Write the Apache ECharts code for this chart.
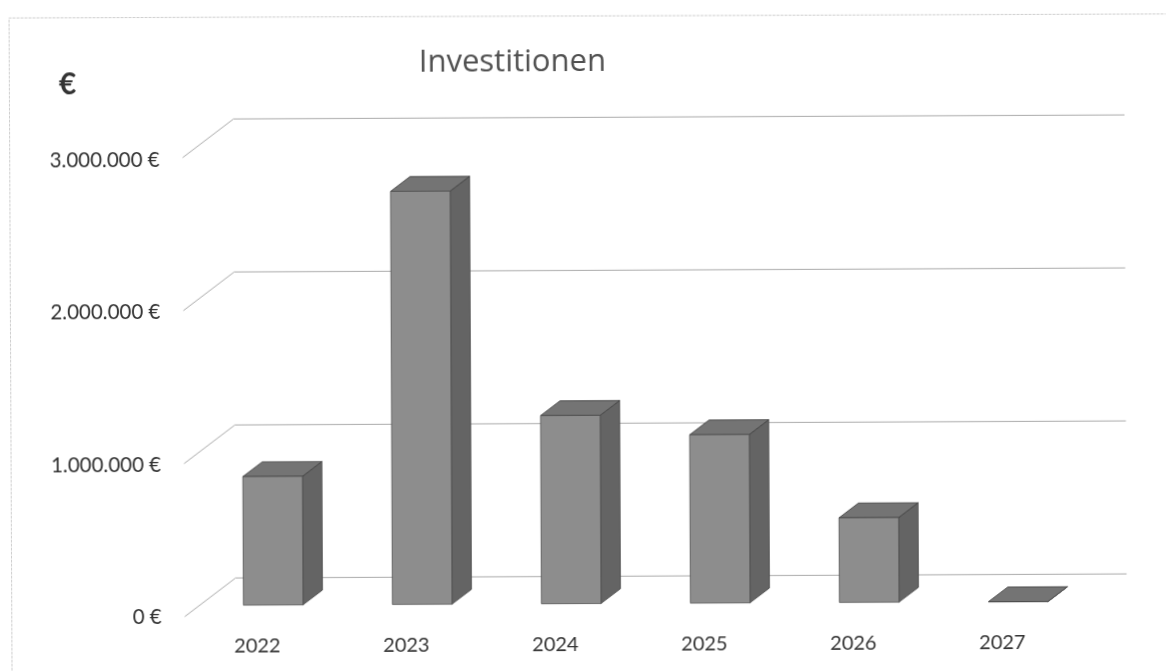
<!DOCTYPE html>
<html>
<head>
<meta charset="utf-8">
<style>
html,body{margin:0;padding:0;background:#fff;overflow:hidden}
#c{width:1167px;height:671px;transform:rotate(-0.26deg);transform-origin:583px 335px;filter:blur(0.45px)}
</style>
<script src="https://cdn.jsdelivr.net/npm/echarts@6/dist/echarts.min.js"></script>
</head>
<body>
<div id="c"></div>
<script>
const categories = ['2022','2023','2024','2025','2026','2027'];
const investments = [840000, 2700000, 1230000, 1100000, 553000, 0];
const valueTicks = [0, 1000000, 2000000, 3000000];
const tickLabels = ['0 €','1.000.000 €','2.000.000 €','3.000.000 €'];
const titleText = 'Investitionen';
const unitText = '€';

const chart = echarts.init(document.getElementById('c'), null, {renderer:'canvas'});
const DX = 19.5, DY = -14.7;

function renderBar(params, api){
  const i = api.value(0), v = api.value(1);
  const top = api.coord([i, v]);
  const base = api.coord([i, 0]);
  const w = api.size([1,0])[0] * 0.4;
  const l = top[0] - w/2, r = top[0] + w/2;
  const edge = {stroke:'#4d4d4d', lineWidth:0.8};
  const children = [
    {type:'polygon', shape:{points:[[r,top[1]],[r+DX,top[1]+DY],[r+DX,base[1]+DY],[r,base[1]]]},
     style:Object.assign({fill:'#646464'},edge)},
    {type:'polygon', shape:{points:[[l,top[1]],[l+DX,top[1]+DY],[r+DX,top[1]+DY],[r,top[1]]]},
     style:{fill:'#747474', stroke:'#3a3a3a', lineWidth:0.8}},
    {type:'rect', shape:{x:l,y:top[1],width:w,height:base[1]-top[1]},
     style:Object.assign({fill:'#8d8d8d'},edge)}
  ];
  return {type:'group', children};
}

function renderGridLine(params, api){
  const v = api.value(0);
  const y = api.coord([0, v])[1];
  const cs = params.coordSys;
  const x0 = cs.x;
  const x1 = cs.x + cs.width;
  return {type:'polyline', shape:{points:[[x0-14,y+11.2],[x0+37,y-27.2],[x1+34,y-27.2]]},
    style:{fill:null, stroke:'#ababab', lineWidth:1}};
}

chart.setOption({
  animation:false,
  backgroundColor:'#ffffff',
  title:[
    {text:titleText, left:415, top:42, textStyle:{fontFamily:'Open Sans', fontSize:31, fontWeight:400, color:'#505050'}},
    {text:unitText, left:55, top:62, textStyle:{fontFamily:'Lato', fontSize:30, fontWeight:'bold', color:'#333333'}}
  ],
  graphic:[
    {type:'polyline', silent:true, shape:{points:[[10.5,680],[10.5,15.4],[1180,16.6]]},
     style:{fill:null, stroke:'#cfcfcf', lineWidth:1, lineDash:[3,1]}}
  ],
  grid:[
    {left:181.5, top:158.5, width:894, height:457},
    {left:197.5, top:144.6, width:894, height:459}
  ],
  xAxis:[
    {type:'category', gridIndex:0, data:categories, axisLine:{show:false}, axisTick:{show:false},
     axisLabel:{margin:19, fontFamily:'Lato', fontSize:20, color:'#333333'}},
    {type:'category', gridIndex:1, data:categories, show:false}
  ],
  yAxis:[
    {type:'value', gridIndex:0, min:0, max:3000000, interval:1000000,
     axisLine:{show:false}, axisTick:{show:false}, splitLine:{show:false},
     axisLabel:{margin:21, fontFamily:'Lato', fontSize:20.5, color:'#333333',
       formatter:function(v){ return tickLabels[valueTicks.indexOf(v)]; }}},
    {type:'value', gridIndex:1, min:0, max:3000000, interval:1000000, show:false}
  ],
  series:[
    {type:'custom', name:'grid', xAxisIndex:1, yAxisIndex:1, silent:true, clip:false, z:1,
     data:valueTicks.map(v=>[v]), encode:{y:0}, renderItem:renderGridLine},
    {type:'custom', name:'Investitionen', xAxisIndex:1, yAxisIndex:1, clip:false, z:2,
     data:investments.map((v,i)=>[i,v]), encode:{x:0,y:1}, renderItem:renderBar}
  ]
});
</script>
</body>
</html>
